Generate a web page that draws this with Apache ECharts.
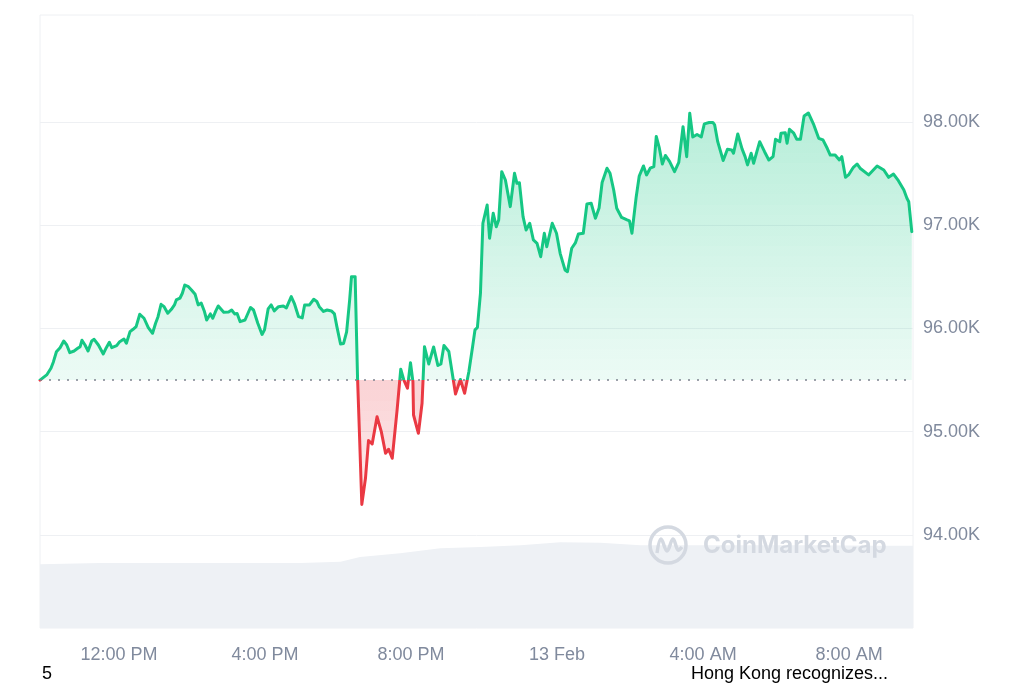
<!DOCTYPE html>
<html><head><meta charset="utf-8">
<script src="https://cdn.jsdelivr.net/npm/echarts@6/dist/echarts.min.js"></script>
<style>html,body{margin:0;padding:0;background:#fff}#c{width:1024px;height:683px}</style>
</head><body><div id="c"></div>
<script>
// minutes since 12 Feb 00:00
const timeMin = [590,601,608,612,617,623,629,634,639,646,652,656,659,664,669,675,679,686,694,699,704,708,716,721,728,732,738,743,748,754,761,768,775,780,784,789,794,800,806,811,814,820,824,828,834,839,845,850,855,860,864,870,874,879,883,892,900,905,910,914,919,927,936,941,948,955,959,965,970,975,982,990,995,1003,1008,1015,1021,1025,1033,1040,1045,1049,1056,1062,1069,1074,1078,1084,1089,1094,1099,1102,1108,1112,1115,1119,1125,1130,1136,1144,1151,1158,1163,1169,1177,1183,1188,1194,1199,1203,1204,1212,1218,1222,1229,1237,1244,1249,1254,1262,1273,1281,1288,1295,1301,1305,1309,1314,1318,1325,1329,1335,1340,1344,1349,1355,1363,1370,1374,1378,1384,1389,1395,1401,1407,1413,1419,1423,1432,1439,1445,1453,1457,1464,1470,1475,1483,1489,1496,1503,1509,1514,1522,1527,1533,1538,1546,1555,1559,1563,1570,1575,1582,1587,1593,1599,1603,1608,1613,1618,1625,1633,1640,1647,1653,1658,1663,1670,1677,1682,1690,1696,1699,1704,1713,1720,1727,1730,1737,1744,1749,1753,1759,1763,1773,1781,1788,1795,1799,1806,1808,1815,1818,1822,1829,1834,1840,1846,1853,1862,1870,1877,1884,1889,1897,1904,1908,1914,1919,1927,1933,1938,1952,1966,1977,1985,1993,2001,2010,2015,2018,2023];
const prices = [95500,95550,95615,95676,95775,95814,95879,95840,95766,95782,95808,95824,95886,95840,95782,95879,95895,95840,95753,95814,95866,95814,95833,95872,95898,95857,95969,95992,96018,96138,96099,96008,95954,96050,96114,96234,96211,96147,96186,96228,96276,96293,96341,96421,96405,96373,96331,96228,96247,96170,96082,96141,96099,96170,96218,96157,96160,96179,96141,96145,96066,96082,96203,96179,96050,95942,95986,96189,96228,96170,96211,96218,96199,96308,96244,96114,96102,96228,96228,96283,96262,96211,96165,96179,96170,96141,96018,95850,95855,95966,96276,96502,96502,95516,95001,94296,94549,94915,94881,95146,95001,94791,94830,94743,95211,95605,95501,95421,95669,95485,95162,94985,95276,95824,95656,95821,95642,95656,95835,95777,95366,95506,95372,95584,95821,95986,96010,96341,97019,97196,96874,97116,96986,97051,97519,97438,97180,97503,97406,97412,97083,96954,97019,96857,96825,96695,96922,96792,97019,96922,96728,96567,96550,96777,96828,96915,96922,97206,97213,97067,97167,97414,97552,97503,97341,97164,97075,97051,97041,96922,97274,97477,97574,97487,97552,97567,97860,97748,97593,97676,97616,97519,97608,97954,97664,98084,97855,97879,97855,97981,97995,97995,97971,97809,97627,97736,97729,97697,97884,97739,97664,97584,97697,97600,97809,97712,97632,97664,97832,97809,97891,97896,97794,97929,97891,97832,97832,98058,98087,97971,97842,97826,97745,97680,97680,97632,97664,97464,97487,97561,97593,97552,97487,97574,97535,97464,97496,97431,97341,97261,97228,96938];
const openPrice = 95500;
// volume band (relative units)
const volMin = [590,689,853,1018,1084,1116,1182,1248,1314,1380,1445,1511,1577,1675,1774,1873,1971,2025];
const volValues = [10.4,10.6,10.6,10.6,10.8,11.6,12.2,13.0,13.2,13.5,14.0,13.9,13.5,13.5,13.5,13.5,13.4,13.4];
const xTickMinutes = [720,960,1200,1440,1680,1920];
const xTickLabels = ['12:00 PM','4:00 PM','8:00 PM','13 Feb','4:00 AM','8:00 AM'];
const yTickValues = [94000,95000,96000,97000,98000];
const watermarkText = 'CoinMarketCap';
const footerLeft = '5';
const footerRight = 'Hong Kong recognizes...';

const GREEN = '#16c784', RED = '#ea3943', LABEL = '#808a9d', GRIDC = '#eef0f3', WM = '#d4d9e1';
const priceData = timeMin.map((t, i) => [t, prices[i]]);
const volData = volMin.map((t, i) => [t, volValues[i]]);

const areaPieces = [];
for (let v = 92000; v < openPrice; v += 100) {
  const a = Math.max(0.05, 0.23 - (openPrice - (v + 50)) / 1200 * 0.14);
  areaPieces.push({ gte: v, lt: v + 100, color: 'rgba(234,57,67,' + a.toFixed(3) + ')' });
}
for (let v = openPrice; v < 100000; v += 100) {
  const a = Math.min(0.34, 0.08 + ((v + 50) - openPrice) / 2500 * 0.22);
  areaPieces.push({ gte: v, lt: v + 100, color: 'rgba(22,199,132,' + a.toFixed(3) + ')' });
}

const chart = echarts.init(document.getElementById('c'));
const labelFont = { color: LABEL, fontSize: 18, fontFamily: '"Liberation Sans", Arial, sans-serif' };
chart.setOption({
  animation: false,
  backgroundColor: '#fff',
  grid: { left: 40, right: 111, top: 15, bottom: 55, show: true, borderColor: GRIDC, borderWidth: 1 },
  xAxis: {
    type: 'value', min: 590, max: 2025,
    axisLine: { show: false }, axisTick: { show: false, customValues: xTickMinutes }, splitLine: { show: false },
    axisLabel: Object.assign({ customValues: xTickMinutes, margin: 18,
      formatter: v => xTickLabels[xTickMinutes.indexOf(v)] || '' }, labelFont)
  },
  yAxis: [{
    type: 'value', position: 'right', min: 93099, max: 99036, scale: true,
    axisLine: { show: false }, axisTick: { show: false, customValues: yTickValues },
    splitLine: { show: true, lineStyle: { color: GRIDC, width: 1 } },
    axisLabel: Object.assign({ customValues: yTickValues, margin: 10,
      formatter: v => (v / 1000).toFixed(2) + 'K' }, labelFont)
  }, {
    type: 'value', min: 0, max: 100, show: false, splitLine: { show: false }
  }],
  visualMap: [{
    type: 'piecewise', show: false, seriesIndex: 1, dimension: 1, pieces: areaPieces
  }, {
    type: 'piecewise', show: false, seriesIndex: 2, dimension: 1,
    pieces: [{ gte: 90000, lt: openPrice, color: RED }, { gte: openPrice, lte: 100000, color: GREEN }]
  }],
  series: [{
    type: 'line', yAxisIndex: 1, data: volData, symbol: 'none', z: 1, silent: true,
    lineStyle: { width: 0 }, itemStyle: { color: '#eef1f5' },
    areaStyle: { color: '#eef1f5', opacity: 1 }
  }, {
    type: 'line', data: priceData, symbol: 'none', z: 2, silent: true,
    lineStyle: { width: 0, opacity: 0 },
    areaStyle: { origin: openPrice, opacity: 1 }
  }, {
    type: 'line', data: priceData, symbol: 'none', z: 3, silent: true,
    lineStyle: { width: 3, join: 'round', cap: 'round' },
    markLine: {
      silent: true, symbol: 'none', label: { show: false },
      lineStyle: { type: [2, 7], color: '#7d838f', width: 1.6 },
      data: [{ yAxis: openPrice }]
    }
  }],
  graphic: [{
    type: 'circle', shape: { cx: 668, cy: 545, r: 18 }, z: 10,
    style: { fill: 'none', stroke: WM, lineWidth: 3.5 }
  }, {
    type: 'polyline', z: 10,
    shape: { points: [[657, 553], [661, 539], [667, 551], [673, 539], [678, 550], [682, 547]], smooth: 0.4 },
    style: { fill: 'none', stroke: WM, lineWidth: 3.5 }
  }, {
    type: 'text', x: 703, y: 546, z: 10,
    style: { text: watermarkText, fill: WM, font: 'bold 24px Inter, "Liberation Sans", sans-serif', verticalAlign: 'middle' }
  }, {
    type: 'text', x: 42, y: 674,
    style: { text: footerLeft, fill: '#000', font: '18px "Liberation Sans", Arial, sans-serif', verticalAlign: 'middle' }
  }, {
    type: 'text', x: 691, y: 674,
    style: { text: footerRight, fill: '#000', font: '18px "Liberation Sans", Arial, sans-serif', verticalAlign: 'middle' }
  }]
});
</script></body></html>
